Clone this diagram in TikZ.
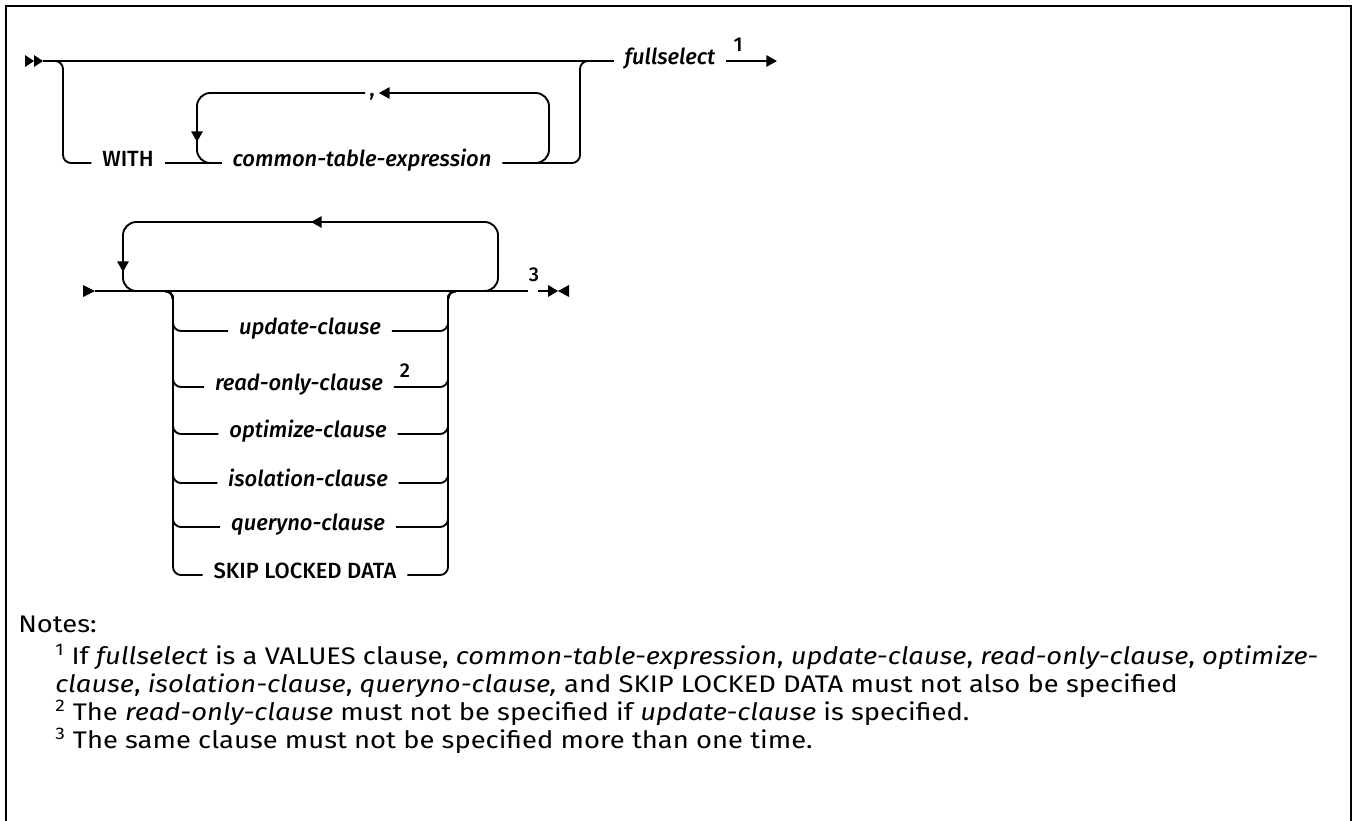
\documentclass[tikz,border=0pt]{standalone}
\usepackage{fontspec}
\setmainfont{Fira Sans}
\newfontfamily\labfont{Fira Sans}[UprightFont=* Medium, ItalicFont=* Medium Italic]
\usetikzlibrary{arrows.meta}
\begin{document}
\begin{tikzpicture}[x=0.75pt,y=-0.75pt,
  rail/.style={line width=1.4pt, rounded corners=6pt},
  loopline/.style={line width=1.4pt, rounded corners=10pt},
  tipped/.style={-{Triangle[length=8pt,width=8.5pt]}},
  lab/.style={font=\labfont\itshape\fontsize{16.5}{19}\selectfont, inner xsep=8pt, inner ysep=1pt, anchor=mid},
  kw/.style={font=\labfont\fontsize{16.5}{19}\selectfont, inner xsep=8pt, inner ysep=1pt, anchor=mid},
  supnum/.style={font=\labfont\fontsize{15}{17}\selectfont, inner sep=1pt},
  note/.style={font=\fontsize{18}{21}\selectfont, anchor=base west, inner sep=0pt, xscale=1.14},
  marker/.style={fill=black}]
\useasboundingbox (0,0) rectangle (1353,821);
% frame
\draw[line width=2pt] (6,821) -- (6,6) -- (1351,6) -- (1351,821);

% ---------- diagram 1 ----------
\fill[marker] (25,55) -- (34,61) -- (25,67) -- cycle;
\fill[marker] (34,55) -- (43,61) -- (34,67) -- cycle;
\coordinate (s1) at (43,61);
\node[lab] (full) at (670,61) {fullselect};
\node[kw] (with) at (128,163) {WITH};
\node[lab] (cte) at (362,163) {common-table-expression};
\node[kw, inner xsep=3pt] (comma) at (372,93) {,};
\node[supnum] (n1) at (738,45) {1};
\coordinate (e1) at (777,61);

\draw[rail] (s1) -- (full.mid west);
\draw[rail] (50,61) -- (63,61) -- (63,163) -- (with.mid west);
\draw[rail] (with.mid east) -- (cte.mid west);
\draw[rail] (cte.mid east) -- (580,163) -- (580,61) -- (600,61);
\draw[loopline,tipped] (530,163) -- (549,163) -- (549,93) -- (comma.mid east);
\draw[loopline,tipped] (comma.mid west) -- (197,93) -- (197,142);
\draw[loopline] (197,136) -- (197,163) -- (220,163);
\draw[rail,tipped] (full.mid east) -- (e1);

% ---------- diagram 2 ----------
\fill[marker] (83,285) -- (95,291) -- (83,297) -- cycle;
\coordinate (s2) at (95,291);
\coordinate (g2) at (528,291);
\draw[rail] (s2) -- (g2);
% repeat loop
\draw[loopline,tipped] (480,291) -- (498,291) -- (498,222) -- (311,222);
\draw[loopline,tipped] (320,222) -- (123,222) -- (123,272);
\draw[loopline] (123,265) -- (123,291) -- (140,291);

\node[lab] (upd) at (310,331) {update-clause};
\node[lab] (ro) at (299,387) {read-only-clause};
\node[lab] (opt) at (308,434) {optimize-clause};
\node[lab] (iso) at (308,483) {isolation-clause};
\node[lab] (qry) at (308,527) {queryno-clause};
\node[kw] (skip) at (305,575) {SKIP LOCKED DATA};
\node[supnum] (n2) at (405,371) {2};

\foreach \n/\yy in {upd/331,ro/387,opt/434,iso/483,qry/527,skip/575}{
  \draw[rail] (158,291) -- (173,291) -- (173,\yy) -- (\n.mid west);
  \draw[rail] (\n.mid east) -- (448,\yy) -- (448,291) -- (463,291);
}

\node[supnum] (n3) at (534,275) {3};
\coordinate (g3) at (538,291);
\draw[line width=1.4pt] (g3) -- (550,291);
\fill[marker] (548,285) -- (558,291) -- (548,297) -- cycle;
\fill[marker] (569,285) -- (558,291) -- (569,297) -- cycle;

% ---------- notes ----------
\node[note] (notes) at (18,632) {Notes:};
\node[note] (l1) at (55,664) {\textsuperscript{1} If \textit{fullselect} is a VALUES clause, \textit{common-table-expression}, \textit{update-clause}, \textit{read-only-clause}, \textit{optimize-}};
\node[note] (l2) at (55,692) {\textit{clause}, \textit{isolation-clause}, \textit{queryno-clause,} and SKIP LOCKED DATA must not also be specified};
\node[note] (l3) at (55,720) {\textsuperscript{2} The \textit{read-only-clause} must not be specified if \textit{update-clause} is specified.};
\node[note] (l4) at (55,748) {\textsuperscript{3} The same clause must not be specified more than one time.};
\end{tikzpicture}
\end{document}
